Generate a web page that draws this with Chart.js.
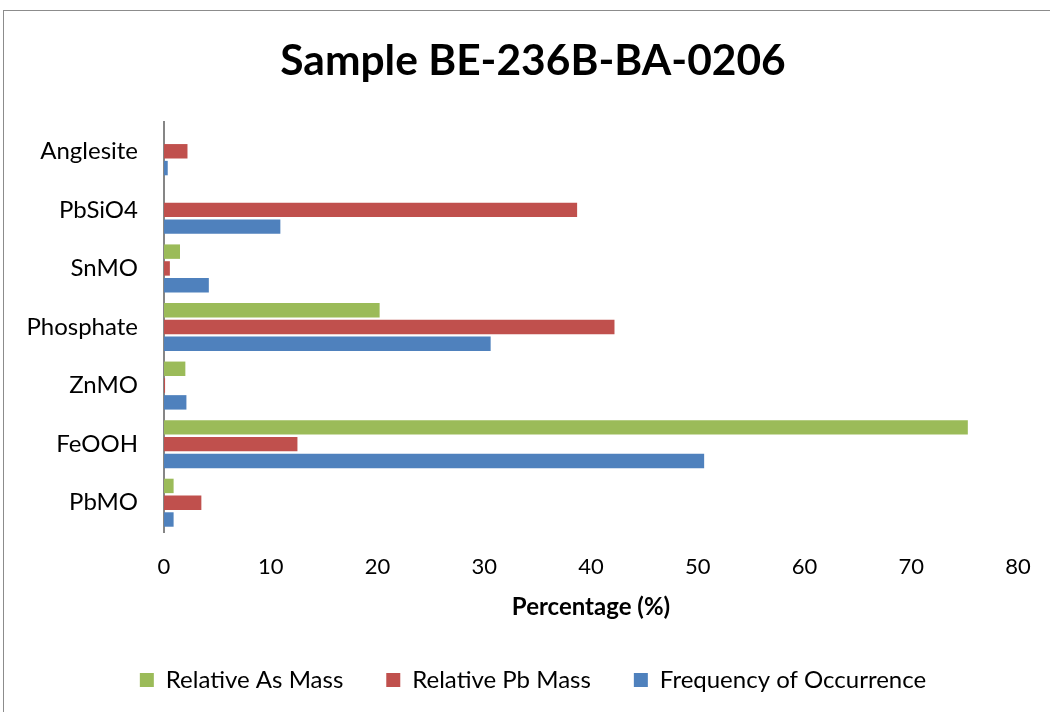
<!DOCTYPE html>
<html>
<head>
<meta charset="utf-8">
<script src="https://cdn.jsdelivr.net/npm/chart.js@4"></script>
<style>
  html, body { margin: 0; padding: 0; background: #fff; overflow: hidden; }
  #wrap { position: relative; width: 1050px; height: 712px; }
  #frame { position: absolute; left: 3px; top: 10px; width: 1100px; height: 800px; border: 1px solid #8c8c8c; }
  canvas { position: absolute; left: 0; top: 0; }
</style>
</head>
<body>
<div id="wrap">
  <div id="frame"></div>
  <canvas id="chart" width="1050" height="712"></canvas>
</div>
<script>
// minerals, top to bottom as drawn
const minerals = ['Anglesite', 'PbSiO4', 'SnMO', 'Phosphate', 'ZnMO', 'FeOOH', 'PbMO'];
const asMass = [0, 0, 1.5, 20.2, 2.0, 75.3, 0.9];
const pbMass = [2.2, 38.7, 0.55, 42.2, 0.1, 12.5, 3.5];
const frequency = [0.35, 10.9, 4.2, 30.6, 2.1, 50.6, 0.9];
const xTicks = [0, 10, 20, 30, 40, 50, 60, 70, 80];

const font = 'Lato, "Noto Sans", sans-serif';
Chart.defaults.font.family = font;
Chart.defaults.color = '#000';

// title and legend are centred on the whole frame, not on the plot box
const shiftBlocks = {
  id: 'shiftBlocks',
  afterLayout(chart) {
    [chart.titleBlock, chart.legend].forEach(b => {
      b.left += 24;
      b.right += 24;
    });
  }
};

new Chart(document.getElementById('chart'), {
  type: 'bar',
  data: {
    labels: minerals,
    datasets: [
      { label: 'Relative As Mass', data: asMass, backgroundColor: '#9BBB59' },
      { label: 'Relative Pb Mass', data: pbMass, backgroundColor: '#C0504D' },
      { label: 'Frequency of Occurrence', data: frequency, backgroundColor: '#4F81BD' }
    ]
  },
  plugins: [shiftBlocks],
  options: {
    indexAxis: 'y',
    responsive: false,
    animation: false,
    devicePixelRatio: 1,
    datasets: {
      bar: { categoryPercentage: 0.86, barPercentage: 0.86, borderWidth: 0 }
    },
    layout: { padding: { left: 0, right: 32, top: 0, bottom: 10 } },
    plugins: {
      title: {
        display: true,
        text: 'Sample BE-236B-BA-0206',
        font: { size: 42.5, weight: 'bold' },
        padding: { top: 36, bottom: 35 }
      },
      legend: {
        position: 'bottom',
        labels: { boxWidth: 14, boxHeight: 14, padding: 43, font: { size: 24 } }
      },
      tooltip: { enabled: false }
    },
    scales: {
      x: {
        min: 0,
        max: 80,
        afterBuildTicks: axis => { axis.ticks = xTicks.map(v => ({ value: v })); },
        afterFit: axis => {
          axis.height = 93;
          axis.paddingLeft = 0;
          axis.paddingRight = 0;
        },
        grid: { display: false, drawTicks: false },
        border: { display: false },
        ticks: { font: { size: 22 }, padding: 22 },
        title: { display: true, text: 'Percentage (%)', font: { size: 24, weight: 'bold' }, padding: { top: 0, bottom: 3 } }
      },
      y: {
        afterFit: axis => { axis.width = 164; },
        grid: { display: false, drawTicks: false },
        border: { display: true, color: '#868686', width: 2 },
        ticks: { font: { size: 24 }, padding: 26 }
      }
    }
  }
});
</script>
</body>
</html>
